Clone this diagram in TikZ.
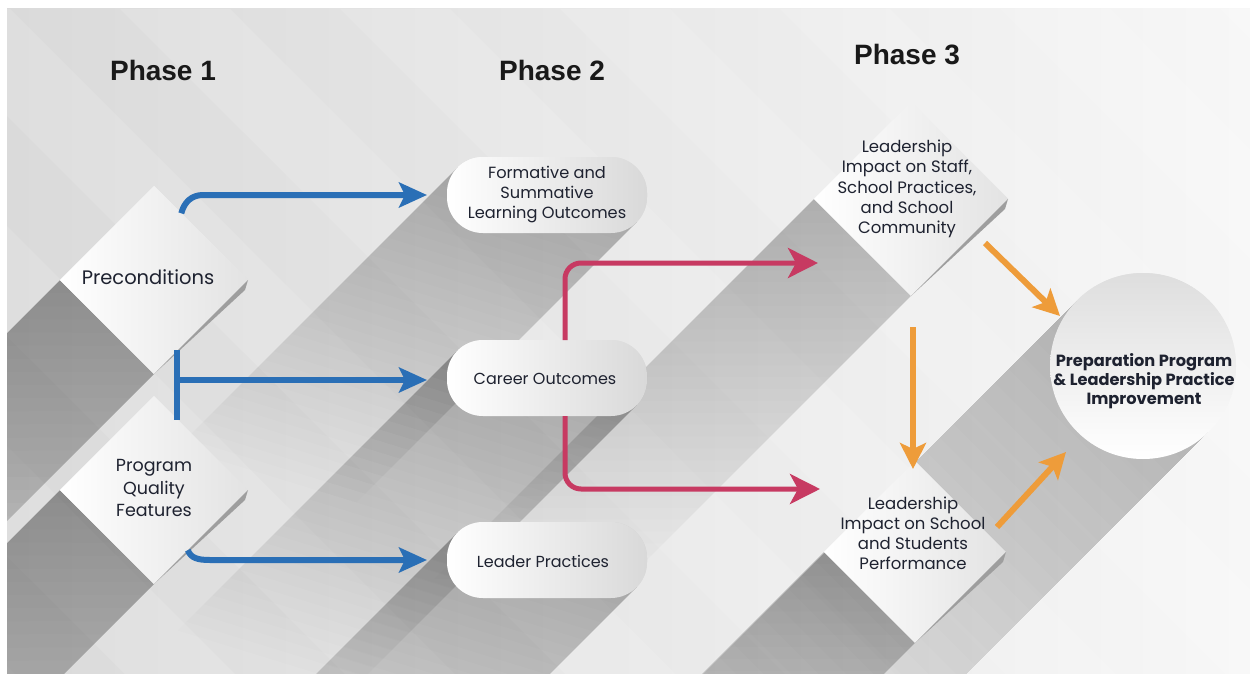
\documentclass[tikz,border=0pt]{standalone}
\usepackage{fontspec}
\setmainfont{Poppins}
\newfontfamily\headfont{Liberation Sans}
\usetikzlibrary{shapes.geometric,arrows.meta,calc}

\definecolor{bgL}{HTML}{DADADA}
\definecolor{bgR}{HTML}{F7F7F7}
\definecolor{arrblue}{HTML}{2A6FB6}
\definecolor{arrred}{HTML}{C73A62}
\definecolor{arrorange}{HTML}{EE9C3A}
\definecolor{ink}{HTML}{1E2230}

\tikzset{
  stage/.style={draw=none, inner sep=0pt, outer sep=0pt},
  rhomb/.style={stage, diamond, aspect=1, minimum width=#1, minimum height=#1,
    left color=white, right color=black!11},
  pill/.style={stage, rectangle, rounded corners=36pt, minimum width=200pt,
    minimum height=76pt, left color=white, right color=black!15},
  goal/.style={stage, circle, minimum size=186pt, top color=black!13, bottom color=white},
  lbl/.style={align=center, text=ink, inner sep=0pt, font=\fontsize{16}{20}\selectfont},
  phase/.style={inner sep=0pt, text=black!90, font=\headfont\bfseries\fontsize{28}{30}\selectfont},
  bluearr/.style={draw=arrblue, line width=6pt,
    -{Stealth[length=28pt,width=25pt,inset=6pt]}, shorten >=20pt},
  bluebar/.style={draw=arrblue, line width=6pt},
  redarr/.style={draw=arrred, line width=5pt, rounded corners=16pt,
    -{Stealth[length=30pt,width=30pt,inset=8pt]}},
  orangearr/.style={draw=arrorange, line width=6pt,
    -{Stealth[length=26pt,width=26pt,inset=6pt]}},
}

% long shadow running down-left from the edge a--b--c:
% #1 darkness next to the shape, #2 #3 #4 edge points, #5 length.
% Nested translucent strips build the fade.
\newcommand\longshade[5]{%
  \pgfmathsetmacro\stepalpha{1-(1-#1)^(1/32)}%
  \foreach \k in {1,...,32}{%
    \pgfmathsetmacro\reach{#5*\k/32}%
    \fill[black, fill opacity=\stepalpha]
      (#2) -- (#3) -- (#4) -- ($(#4)+(-\reach,\reach)$) -- ($(#2)+(-\reach,\reach)$) -- cycle;}}

\begin{document}
\begin{tikzpicture}[x=1pt, y=-1pt]
\useasboundingbox (0,0) rectangle (1250,674);
\fill[white] (0,0) rectangle (1250,674);

% panel
\shade[left color=bgL, right color=bgR] (7,9) rectangle (1250,674);

% shapes (placed first so their anchors exist for the shadows)
\path
  node[rhomb=188pt] (pre) at (154,280) {}
  node[rhomb=188pt] (pqf) at (154,490) {}
  node[pill] (form)   at (547,195) {}
  node[pill] (career) at (547,378) {}
  node[pill] (leader) at (547,560) {}
  node[rhomb=194pt] (up)  at (911,199) {}
  node[rhomb=182pt] (low) at (915,552) {}
  node[goal] (circ) at (1143,366) {};

\begin{scope}
  \clip (7,9) rectangle (1250,674);
  % diagonal bands of the backdrop
  \foreach \a in {-760,-540,...,1300}
    \fill[white, opacity=0.13] (\a,9) -- (\a+110,9) -- (\a+810,709) -- (\a+700,709) -- cycle;
  % long shadows
  \longshade{0.30}{pre.west}{pre.south}{pre.east}{420}
  \longshade{0.30}{pqf.west}{pqf.south}{pqf.east}{420}
  \longshade{0.26}{$(form.north west)+(10.5,10.5)$}{$(form.south east)+(-10.5,-10.5)$}{$(form.south east)+(-10.5,-10.5)$}{280}
  \longshade{0.26}{$(career.north west)+(10.5,10.5)$}{$(career.south east)+(-10.5,-10.5)$}{$(career.south east)+(-10.5,-10.5)$}{280}
  \longshade{0.26}{$(leader.north west)+(10.5,10.5)$}{$(leader.south east)+(-10.5,-10.5)$}{$(leader.south east)+(-10.5,-10.5)$}{280}
  \longshade{0.26}{up.west}{up.south}{up.east}{380}
  \longshade{0.26}{low.west}{low.south}{low.east}{380}
  \longshade{0.22}{circ.north west}{circ.south east}{circ.south east}{440}
\end{scope}

% redraw the shapes over their shadows
\node[rhomb=188pt] at (pre.center) {};
\node[rhomb=188pt] at (pqf.center) {};
\node[pill] at (form.center) {};
\node[pill] at (career.center) {};
\node[pill] at (leader.center) {};
\node[rhomb=194pt] at (up.center) {};
\node[rhomb=182pt] at (low.center) {};
\node[goal] at (circ.center) {};

% dark side wedges under the diamonds
\foreach \d in {pre,pqf,up,low}
  \fill[black!38] (\d.east) -- ($(\d.east)+(-3,10)$) -- (\d.south) -- cycle;

% phase titles
\node[phase] (ph1) at (163,70) {Phase 1};
\node[phase] (ph2) at (552,70) {Phase 2};
\node[phase] (ph3) at (907,55) {Phase 3};

% labels
\node[lbl, font=\fontsize{19.5}{22}\selectfont] (pre-t) at (148,277) {Preconditions};
\node[lbl, font=\fontsize{17.5}{22.5}\selectfont] (pqf-t) at (154,488) {Program\\Quality\\Features};
\node[lbl, font=\fontsize{16.2}{20}\selectfont] (form-t) at (547,195) {Formative and\\Summative\\Learning Outcomes};
\node[lbl, font=\fontsize{16}{20}\selectfont] (career-t) at (545,379) {Career Outcomes};
\node[lbl, font=\fontsize{16}{20}\selectfont] (leader-t) at (543,561) {Leader Practices};
\node[lbl, font=\fontsize{16.5}{20.3}\selectfont] (up-t) at (907,189) {Leadership\\Impact on Staff,\\School Practices,\\and School\\Community};
\node[lbl, font=\fontsize{16.5}{20}\selectfont] (low-t) at (913,533) {Leadership\\Impact on School\\and Students\\Performance};
\node[lbl, font=\bfseries\fontsize{16.2}{19}\selectfont] (circ-t) at (1144,381)
  {Preparation Program\\\& Leadership Practice\\Improvement};

% blue connectors, phase 1 to phase 2
\coordinate (b1s) at ($(pre.north)!0.29!(pre.east)$);
\draw[bluearr] (b1s) .. controls +(3,-11) and +(-12,0) .. ($(b1s |- form.west)+(22,0)$) -- (form.west);
\coordinate (btop) at (177,350);
\coordinate (bbot) at (177,420);
\draw[bluebar] (btop) -- (bbot);
\draw[bluearr] ($(btop |- career.west)+(0,2)$) -- ($(career.west)+(0,2)$);
\coordinate (b3s) at ($(pqf.east)!0.64!(pqf.south)$);
\draw[bluearr] (b3s) .. controls +(3,8) and +(-12,0) .. ($(b3s |- leader.west)+(22,0)$) -- (leader.west);

% red connectors, phase 2 to phase 3
\coordinate (r1e) at (818,263);
\coordinate (r2e) at (820,489);
\draw[redarr] ([xshift=18pt]career.north) |- (r1e);
\draw[redarr] ([xshift=18pt]career.south) |- (r2e);

% orange connectors inside phase 3
\coordinate (o1s) at (985,243);
\coordinate (o1e) at (1060,316);
\draw[orangearr] (o1s) -- (o1e);
\coordinate (o2s) at (913,327);
\coordinate (o2e) at (913,469);
\draw[orangearr] (o2s) -- (o2e);
\coordinate (o3s) at (997,527);
\coordinate (o3e) at (1066,452);
\draw[orangearr] (o3s) -- (o3e);
\end{tikzpicture}
\end{document}
